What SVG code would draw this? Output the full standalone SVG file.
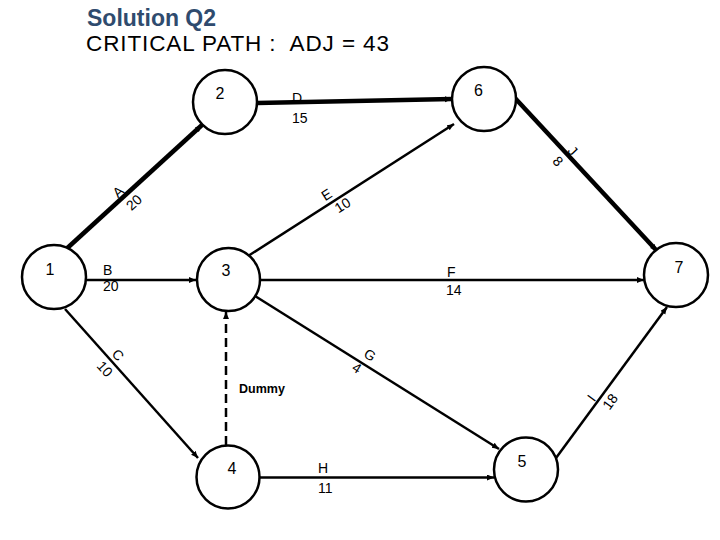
<svg xmlns="http://www.w3.org/2000/svg" width="720" height="540" viewBox="0 0 720 540">
<style>
.node circle{fill:#fff;stroke:#000;stroke-width:2.5}
.nl{font-family:"Liberation Sans",Arial,sans-serif;font-size:16px;fill:#000;text-anchor:middle}
.el{font-family:"Liberation Sans",Arial,sans-serif;font-size:14px;fill:#000}
.e{stroke:#000;stroke-width:2.5;fill:none;marker-end:url(#ah)}
.crit{stroke-width:4.5}
.dash{stroke-dasharray:9 5}
</style>
<defs>
<marker id="ah" markerUnits="userSpaceOnUse" markerWidth="8" markerHeight="7" refX="7" refY="3" orient="auto">
<path d="M0,0 L7,3 L0,6 z" fill="#000"/>
</marker>
</defs>
<rect width="720" height="540" fill="#fff"/>
<text x="87" y="26" font-family="'Liberation Sans',Arial,sans-serif" font-size="23" font-weight="bold" fill="#2F4B6E">Solution Q2</text>
<text x="86" y="51" font-family="'Liberation Sans',Arial,sans-serif" font-size="22.5" fill="#000" textLength="303" lengthAdjust="spacing" xml:space="preserve">CRITICAL PATH :  ADJ = 43</text>
<g id="connectors">
<line class="e crit" x1="63" y1="252" x2="202" y2="125"/>
<line class="e crit" x1="257" y1="103" x2="452" y2="99"/>
<line class="e crit" x1="514" y1="97" x2="657" y2="251"/>
<line class="e" x1="86" y1="280" x2="196" y2="280"/>
<line class="e" x1="248" y1="256" x2="454" y2="124"/>
<line class="e" x1="261" y1="280" x2="644" y2="280"/>
<line class="e" x1="65" y1="309" x2="198" y2="458"/>
<line class="e dash" x1="226" y1="445" x2="226" y2="312"/>
<line class="e" x1="255" y1="296" x2="499" y2="449"/>
<line class="e" x1="260" y1="477.5" x2="494" y2="477.5"/>
<line class="e" x1="556" y1="458" x2="667" y2="307"/>
<g class="el">
<g transform="translate(126,194) rotate(-42.4)"><text class="el" x="-9" y="-2">A</text><text class="el" x="-7.6" y="16.5">20</text></g>
<text class="el" x="292" y="102.5">D</text><text class="el" x="292" y="123">15</text>
<g transform="translate(565,154) rotate(46.9)"><text class="el" x="-0.5" y="-3">J</text><text class="el" x="-3.5" y="15">8</text></g>
<text class="el" x="103" y="275">B</text><text class="el" x="103" y="291">20</text>
<g transform="translate(335,198.5) rotate(-32.5)"><text class="el" x="-9.7" y="-3">E</text><text class="el" x="-5" y="14.5">10</text></g>
<text class="el" x="447" y="277">F</text><text class="el" x="446" y="295">14</text>
<g transform="translate(112,361) rotate(48)"><text class="el" x="-5.5" y="-3.5">C</text><text class="el" x="-6.6" y="15.6">10</text></g>
<g transform="translate(365,364) rotate(32.1)"><text class="el" x="-6" y="-5.3">G</text><text class="el" x="-8.6" y="12.6">4</text></g>
<text class="el" x="318" y="473">H</text><text class="el" x="318" y="493">11</text>
<g transform="translate(600,397.5) rotate(-53.7)"><text class="el" x="-7.4" y="-1.6">I</text><text class="el" x="-5.1" y="15.5">18</text></g>
<text x="239" y="393" font-family="'Liberation Sans',Arial,sans-serif" font-size="12.5" font-weight="bold" fill="#000">Dummy</text>
</g>
</g>
<g id="node1" class="node"><circle cx="54" cy="277" r="32"/><text class="nl" x="50" y="275">1</text></g>
<g id="node2" class="node"><circle cx="225" cy="102" r="32"/><text class="nl" x="220" y="98.5">2</text></g>
<g id="node3" class="node"><circle cx="228.5" cy="279.5" r="31.5"/><text class="nl" x="226" y="276">3</text></g>
<g id="node4" class="node"><circle cx="228" cy="477" r="31.5"/><text class="nl" x="232" y="474">4</text></g>
<g id="node5" class="node"><circle cx="526" cy="469.5" r="32"/><text class="nl" x="522" y="467">5</text></g>
<g id="node6" class="node"><circle cx="484" cy="99" r="32"/><text class="nl" x="478.5" y="96">6</text></g>
<g id="node7" class="node"><circle cx="676" cy="275" r="32"/><text class="nl" x="679" y="273">7</text></g>
</svg>
